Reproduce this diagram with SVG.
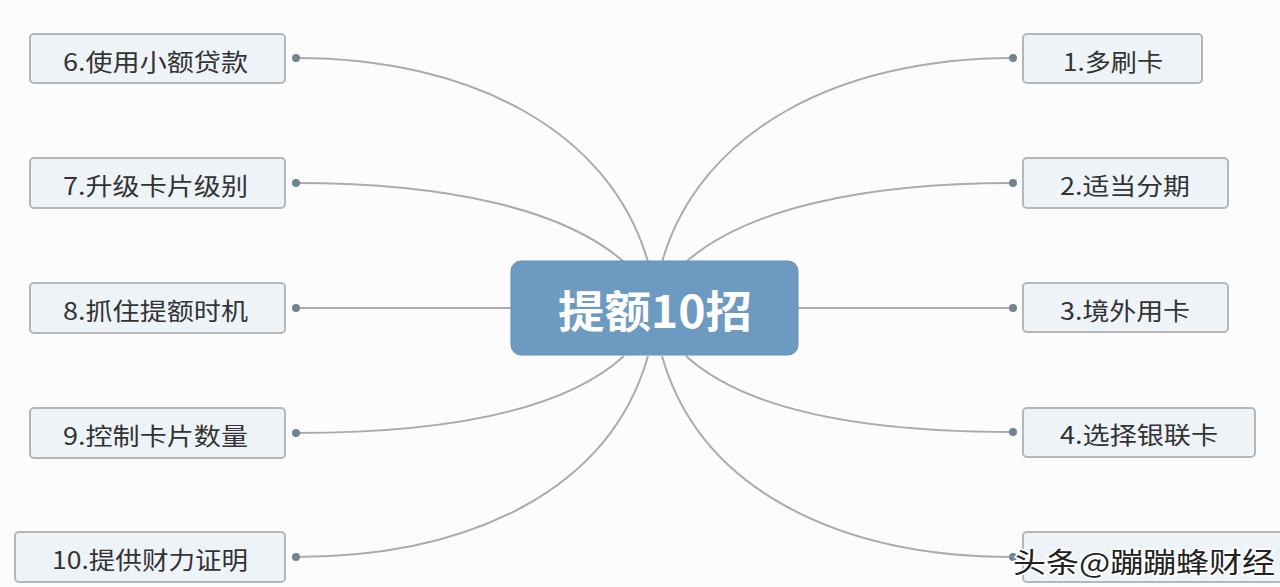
<svg xmlns="http://www.w3.org/2000/svg" width="1280" height="587" viewBox="0 0 1280 587">
<style>
.bg{fill:#fcfcfc}
.box{fill:#eef3f8;stroke:#b4b7ba;stroke-width:2}
.lbl{font-family:"Noto Sans CJK SC","Noto Sans",sans-serif;font-size:24px;fill:#333;dominant-baseline:central;lengthAdjust:spacingAndGlyphs}
.con{fill:none;stroke:#a9abae;stroke-width:2}
.dot{fill:#6f8591}
.root{fill:#6c9ac1;stroke:#6690b5;stroke-width:1}
.rootT{font-family:"Noto Sans CJK SC","Noto Sans",sans-serif;font-size:44px;font-weight:bold;fill:#fff;dominant-baseline:central}
.wm{font-family:"Noto Sans CJK SC","Noto Sans",sans-serif;font-size:28px;fill:#222;stroke:#fff;stroke-width:3;paint-order:stroke;dominant-baseline:central}
</style>
<rect class="bg" x="0" y="0" width="1280" height="587"/>
<g id="connectors">
<path class="con" d="M296,58 C470,58 610,130 648,262"/>
<path class="con" d="M296,183 C450,183 565,210 624,262"/>
<path class="con" d="M296,308 L511,308"/>
<path class="con" d="M296,433 C450,433 565,410 624,356"/>
<path class="con" d="M296,557 C470,557 610,490 648,356"/>
<path class="con" d="M1013,58 C840,58 700,130 662,262"/>
<path class="con" d="M1013,183 C860,183 745,210 686,262"/>
<path class="con" d="M798,308 L1013,308"/>
<path class="con" d="M1013,432 C860,432 745,410 686,356"/>
<path class="con" d="M1013,557 C840,557 700,490 662,356"/>
<circle class="dot" cx="296" cy="58" r="4"/>
<circle class="dot" cx="296" cy="183" r="4"/>
<circle class="dot" cx="296" cy="308" r="4"/>
<circle class="dot" cx="296" cy="433" r="4"/>
<circle class="dot" cx="296" cy="557" r="4"/>
<circle class="dot" cx="1013" cy="58" r="4"/>
<circle class="dot" cx="1013" cy="183" r="4"/>
<circle class="dot" cx="1013" cy="308" r="4"/>
<circle class="dot" cx="1013" cy="432" r="4"/>
<circle class="dot" cx="1013" cy="557" r="4"/>
</g>
<g id="root">
<rect class="root" x="511" y="261" width="287" height="94" rx="10"/>
<text class="rootT" x="558" y="309" textLength="194" lengthAdjust="spacingAndGlyphs">提额10招</text>
</g>
<g id="n6"><rect class="box" x="30" y="34" width="255" height="49" rx="4"/><text class="lbl" x="63" y="60" textLength="185" lengthAdjust="spacingAndGlyphs">6.使用小额贷款</text></g>
<g id="n7"><rect class="box" x="30" y="158" width="255" height="50" rx="4"/><text class="lbl" x="63" y="184" textLength="185" lengthAdjust="spacingAndGlyphs">7.升级卡片级别</text></g>
<g id="n8"><rect class="box" x="30" y="283" width="255" height="50" rx="4"/><text class="lbl" x="63" y="309" textLength="185" lengthAdjust="spacingAndGlyphs">8.抓住提额时机</text></g>
<g id="n9"><rect class="box" x="30" y="408" width="255" height="50" rx="4"/><text class="lbl" x="63" y="434" textLength="185" lengthAdjust="spacingAndGlyphs">9.控制卡片数量</text></g>
<g id="n10"><rect class="box" x="15" y="532" width="270" height="50" rx="4"/><text class="lbl" x="52" y="558" textLength="196" lengthAdjust="spacingAndGlyphs">10.提供财力证明</text></g>
<g id="n1"><rect class="box" x="1023" y="34" width="179" height="49" rx="4"/><text class="lbl" x="1063" y="60" textLength="100" lengthAdjust="spacingAndGlyphs">1.多刷卡</text></g>
<g id="n2"><rect class="box" x="1023" y="158" width="205" height="50" rx="4"/><text class="lbl" x="1060" y="184" textLength="130" lengthAdjust="spacingAndGlyphs">2.适当分期</text></g>
<g id="n3"><rect class="box" x="1023" y="283" width="205" height="49" rx="4"/><text class="lbl" x="1060" y="309" textLength="130" lengthAdjust="spacingAndGlyphs">3.境外用卡</text></g>
<g id="n4"><rect class="box" x="1023" y="408" width="232" height="49" rx="4"/><text class="lbl" x="1060" y="433" textLength="158" lengthAdjust="spacingAndGlyphs">4.选择银联卡</text></g>
<g id="n5"><rect class="box" x="1023" y="532" width="262" height="50" rx="4"/></g>
<text class="wm" x="1013" y="561" textLength="262" lengthAdjust="spacingAndGlyphs">头条@蹦蹦蜂财经</text>
</svg>
